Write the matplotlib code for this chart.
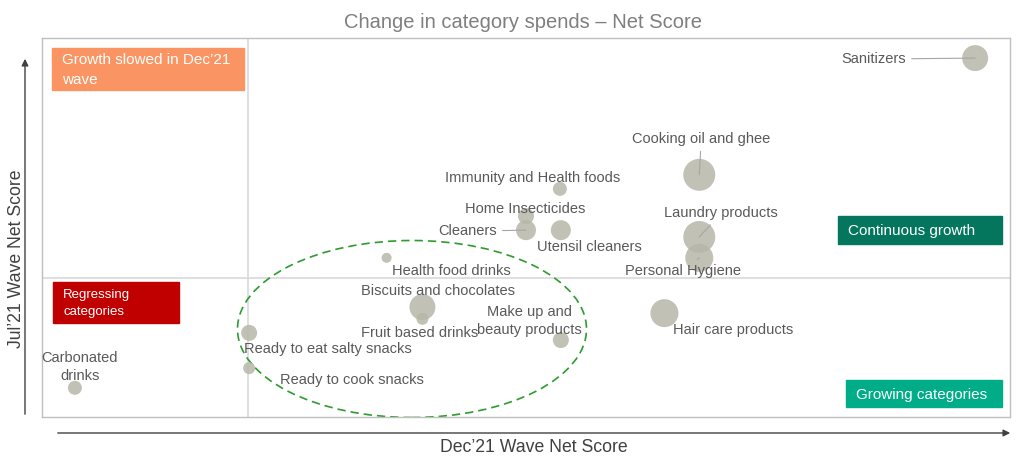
import matplotlib

matplotlib.use("Agg")
import matplotlib.pyplot as plt
from matplotlib.patches import Ellipse, FancyArrowPatch

plt.rcParams["font.family"] = ["Liberation Sans", "DejaVu Sans"]

# 數據：x = Dec'21 net score, y = Jul'21 net score (相對刻度 0-100)，size = 泡泡大小
categories = [
    "Sanitizers", "Cooking oil and ghee", "Immunity and Health foods",
    "Home Insecticides", "Cleaners", "Utensil cleaners", "Laundry products",
    "Personal Hygiene", "Health food drinks", "Biscuits and chocolates",
    "Fruit based drinks", "Hair care products", "Make up and\nbeauty products",
    "Ready to eat salty snacks", "Ready to cook snacks", "Carbonated\ndrinks",
]
dec_score = [96.4, 67.9, 53.5, 50.0, 50.0, 53.6, 67.9, 67.9, 35.6, 39.3, 39.3, 64.3, 53.6, 21.4, 21.4, 3.4]
jul_score = [94.7, 63.9, 60.2, 53.0, 49.3, 49.3, 47.5, 42.0, 42.0, 29.0, 25.9, 27.4, 20.3, 22.2, 12.9, 7.7]
bubble = [13, 16, 7, 8, 10, 10, 16, 14, 5, 13, 6, 14, 8, 8, 6, 7]

x_split = 21.3
y_split = 36.7

# 標籤位移（px，y 向上）、對齊、是否畫引線
label_layout = [
    (-69, -1, "right", True), (2, 36, "center", True), (-27, 11, "center", False),
    (-1, 7, "center", False), (-29, -1, "right", True), (29, -17, "center", False),
    (22, 24, "center", True), (-16, -13, "center", True), (5, -13, "left", False),
    (16, 16, "center", False), (-3, -14, "center", False), (9, -17, "left", False),
    (-31, 19, "center", False), (-5, -16, "left", False), (31, -12, "left", False),
    (5, 21, "center", False),
]

W, H = 1024, 467
fig = plt.figure(figsize=(W / 100, H / 100), dpi=100)
ax = fig.add_axes([42 / W, 1 - 417 / H, (1010 - 42) / W, (417 - 38) / H])
ax.set_xlim(0, 100)
ax.set_ylim(0, 100)
ax.set_xticks([])
ax.set_yticks([])
for sp in ax.spines.values():
    sp.set_color("#bfbfbf")
    sp.set_linewidth(1.0)

ax.axvline(x_split, color="#d9d9d9", lw=1.2, zorder=1)
ax.axhline(y_split, color="#d9d9d9", lw=1.2, zorder=1)

sizes = [(2 * r * 0.72) ** 2 for r in bubble]
ax.scatter(dec_score, jul_score, s=sizes, color="#b7b7a9", alpha=0.85,
           edgecolors="none", zorder=3)

text_color = "#595959"
for name, x, y, (dx, dy, ha, lead) in zip(categories, dec_score, jul_score, label_layout):
    arrow = None
    if lead:
        arrow = dict(arrowstyle="-", color="#a6a6a6", lw=0.8, shrinkA=2, shrinkB=0)
    ax.annotate(name, (x, y), xytext=(dx * 0.72, dy * 0.72), textcoords="offset points",
                ha=ha, va="center", fontsize=10.5, color=text_color,
                linespacing=1.4, arrowprops=arrow, zorder=4)

# 綠色虛線圈
ax.add_patch(Ellipse(((412 - 42) / 9.68, (417 - 329) / 3.79), 349 / 9.68, 177 / 3.79,
                     fill=False, ls=(0, (5, 3)), lw=1.2, color="#2e9b2e", zorder=2))

# 象限標籤
def quad_box(x0, y0, x1, y1, color, text, fs=11, ls=1.5):
    fx0, fx1 = x0 / W, x1 / W
    fy0, fy1 = 1 - y1 / H, 1 - y0 / H
    fig.patches.append(plt.Rectangle((fx0, fy0), fx1 - fx0, fy1 - fy0,
                                     transform=fig.transFigure, color=color, zorder=5))
    fig.text(fx0 + 10 / W, (fy0 + fy1) / 2 - 1 / H, text, color="white", fontsize=fs,
             va="center", ha="left", linespacing=ls, zorder=6)

quad_box(52, 48, 244, 90, "#fa9563", "Growth slowed in Dec\u201921\nwave", ls=1.55)
quad_box(53, 282, 179, 323, "#c00000", "Regressing\ncategories", fs=9.5, ls=1.6)
quad_box(838, 216, 1002, 244, "#04765d", "Continuous growth")
quad_box(846, 380, 1002, 407, "#00ad88", "Growing categories")

fig.text(523 / W, 1 - 22 / H, "Change in category spends \u2013 Net Score",
         ha="center", va="center", fontsize=14.5, color="#7f7f7f")
fig.text(534 / W, 1 - 447 / H, "Dec\u201921 Wave Net Score",
         ha="center", va="center", fontsize=12.7, color="#404040")
fig.text(17 / W, 1 - 259 / H, "Jul\u201921 Wave Net Score", rotation=90,
         ha="center", va="center", fontsize=12.7, color="#404040")

fig.patches.append(FancyArrowPatch((55 / W, 1 - 433 / H), (1013 / W, 1 - 433 / H),
                                   transform=fig.transFigure, arrowstyle="-|>",
                                   mutation_scale=10, color="#404040", lw=1.0))
fig.patches.append(FancyArrowPatch((25 / W, 1 - 417 / H), (25 / W, 1 - 56 / H),
                                   transform=fig.transFigure, arrowstyle="-|>",
                                   mutation_scale=10, color="#404040", lw=1.0))

fig.savefig("out.png", dpi=100, facecolor="white")
